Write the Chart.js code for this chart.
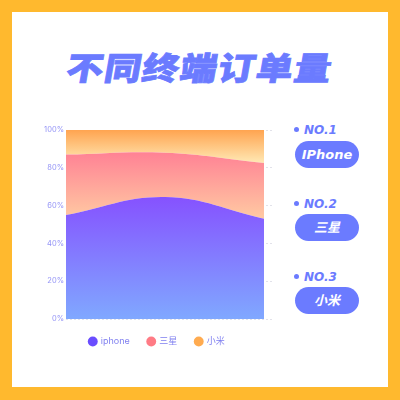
<!DOCTYPE html>
<html>
<head>
<meta charset="utf-8">
<script src="https://cdn.jsdelivr.net/npm/chart.js@4"></script>
<style>
  html, body { margin: 0; padding: 0; }
  body { width: 400px; height: 400px; position: relative; overflow: hidden; background: #ffb92e; }
  .frame { position: absolute; left: 12px; top: 12px; width: 376px; height: 375px; background: #fff; }
  .title { position: absolute; left: 0; width: 400px; top: 46px; text-align: center;
    font-family: "Noto Sans CJK SC", sans-serif; font-weight: 900; font-size: 32px; line-height: 40px;
    color: #6b7bff; -webkit-text-stroke: 0.8px #6b7bff; letter-spacing: 1px; transform: skewX(-10deg) scaleX(1.15); }
  #wrap { position: absolute; left: 40px; top: 120px; width: 240px; height: 236px; }
  .rank { position: absolute; left: 294px; font-family: "DejaVu Sans", sans-serif; font-weight: bold;
    font-style: italic; font-size: 12px; color: #6b7bff; line-height: 12px; }
  .rank:before { content: ""; display: inline-block; width: 5px; height: 5px; border-radius: 50%;
    background: #6b7bff; margin-right: 5px; vertical-align: 2px; }
  .pill { position: absolute; left: 295px; width: 64px; height: 27px; border-radius: 14px; background: #6b7bff;
    color: #fff; text-align: center; line-height: 27px; font-family: "DejaVu Sans", "Noto Sans CJK SC", sans-serif;
    font-weight: bold; font-style: italic; font-size: 13px; }
</style>
</head>
<body>
<div class="frame"></div>
<div class="title">不同终端订单量</div>
<div id="wrap"><canvas id="chart"></canvas></div>
<div class="rank" style="top:124px">NO.1</div>
<div class="pill" style="top:141px">IPhone</div>
<div class="rank" style="top:198px">NO.2</div>
<div class="pill" style="top:214px">三星</div>
<div class="rank" style="top:271px">NO.3</div>
<div class="pill" style="top:287px">小米</div>
<script>
// chart data
const seriesNames = ['iphone', '三星', '小米'];
const xValues = [0, 1, 2];
const iphoneShare = [55, 64.5, 53];
const samsungShare = [32, 23.5, 29.5];
const xiaomiShare = [13, 12, 17.5];
const yTicks = [0, 20, 40, 60, 80, 100];

const legendColors = ['#6a4dff', '#ff7b85', '#ffab50'];
// gradient stops: [topValue, bottomValue, topColor, bottomColor]
const gradients = [
  [66, 0, '#8650ff', '#80a8ff'],
  [89, 54, '#ff8094', '#ffc8a2'],
  [100, 82, '#ffa450', '#ffebb8']
];

function toPoints(vals) {
  return vals.map((v, i) => ({ x: xValues[i], y: v }));
}

function gradientFill(idx) {
  return function (ctx) {
    const chart = ctx.chart;
    if (!chart.chartArea) return legendColors[idx];
    const y = chart.scales.y;
    const g = chart.ctx.createLinearGradient(0, y.getPixelForValue(gradients[idx][0]), 0, y.getPixelForValue(gradients[idx][1]));
    g.addColorStop(0, gradients[idx][2]);
    g.addColorStop(1, gradients[idx][3]);
    return g;
  };
}

const allSeries = [iphoneShare, samsungShare, xiaomiShare];

new Chart(document.getElementById('chart'), {
  type: 'line',
  data: {
    datasets: allSeries.map((vals, i) => ({
      label: seriesNames[i],
      data: toPoints(vals),
      fill: i === 0 ? 'origin' : '-1',
      backgroundColor: gradientFill(i),
      borderWidth: 0,
      pointRadius: 0,
      tension: 0.4
    }))
  },
  options: {
    responsive: true,
    maintainAspectRatio: false,
    animation: false,
    layout: { padding: { left: 0, right: 6, top: 10, bottom: 0 } },
    scales: {
      x: { type: 'linear', min: 0, max: 2.1, display: false },
      y: {
        stacked: true,
        min: 0,
        max: 100,
        afterFit: s => { s.width = 26; },
        afterBuildTicks: s => { s.ticks = yTicks.map(v => ({ value: v })); },
        border: { display: false, dash: [2, 2] },
        grid: { color: '#e2e2ea', lineWidth: 1, drawTicks: false },
        ticks: {
          padding: 2,
          color: '#9494f6',
          font: { family: 'Inter, sans-serif', size: 7.5 },
          callback: v => v + '%'
        }
      }
    },
    plugins: {
      tooltip: { enabled: false },
      legend: {
        position: 'bottom',
        labels: {
          usePointStyle: true,
          pointStyle: 'circle',
          boxWidth: 7,
          boxHeight: 7,
          padding: 18,
          color: '#7f7ff0',
          font: { family: 'Inter, "Noto Sans CJK SC", sans-serif', size: 9 },
          generateLabels: chart => Chart.defaults.plugins.legend.labels.generateLabels(chart).map((item, i) => {
            item.fillStyle = legendColors[i];
            item.strokeStyle = legendColors[i];
            item.lineWidth = 0;
            return item;
          })
        }
      }
    }
  }
});
</script>
</body>
</html>
